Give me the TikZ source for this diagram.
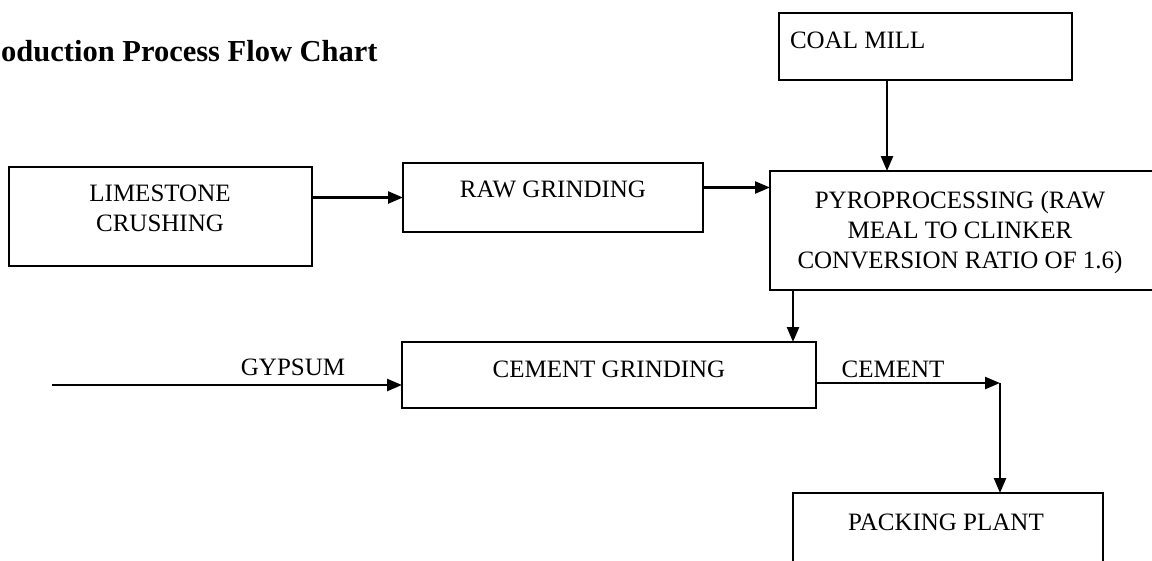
\documentclass[tikz,border=0pt]{standalone}
\usepackage{fontspec}
\setmainfont{Liberation Serif}
\usetikzlibrary{arrows.meta,calc}
\tikzset{
  box/.style={draw, line width=2.4pt, inner sep=0pt, outer sep=0pt, rectangle},
  lbl/.style={inner sep=0pt, outer sep=0pt, font=\fontsize{25}{30}\selectfont, align=center},
  arr/.style={line width=2.4pt, -{Triangle[length=15pt,width=12pt]}}
}
\begin{document}
\begin{tikzpicture}[x=1pt,y=-1pt]
\useasboundingbox (0,0) rectangle (1152,560);
\clip (0,0) rectangle (1152,560);
\fill[white] (0,0) rectangle (1152,560);

% title
\node[inner sep=0pt, anchor=base west, font=\fontsize{30.5}{36}\selectfont\bfseries] (title) at (1,61) {oduction Process Flow Chart};

% boxes
\node[box, minimum width=303pt, minimum height=99pt] (lime) at (160.5,216.5) {};
\node[box, minimum width=300pt, minimum height=69pt] (raw) at (553,197.5) {};
\node[box, minimum width=293pt, minimum height=67pt] (coal) at (925.5,46.5) {};
\node[box, minimum width=395pt, minimum height=119pt] (pyro) at (967.5,230.5) {};
\node[box, minimum width=414pt, minimum height=66pt] (cem) at (609,375) {};
\node[box, minimum width=310pt, minimum height=107pt] (pack) at (948,546.5) {};

% box texts (base = baseline of the last line)
\node[lbl, anchor=base] (limeT) at (160,231) {LIMESTONE\\CRUSHING};
\node[lbl, anchor=base] (rawT) at (553,197) {RAW GRINDING};
\node[lbl, anchor=base west] (coalT) at (790,48) {COAL MILL};
\node[lbl, anchor=base] (pyroT) at (960,268) {PYROPROCESSING (RAW\\MEAL TO CLINKER\\CONVERSION RATIO OF 1.6)};
\node[lbl, anchor=base] (cemT) at (609,377) {CEMENT GRINDING};
\node[lbl, anchor=base] (packT) at (946,530) {PACKING PLANT};

% connector labels
\node[lbl, anchor=base] (gypT) at (293,375) {GYPSUM};
\node[lbl, anchor=base] (cemoT) at (893,377) {CEMENT};

% connectors
\draw[arr] (lime.east |- raw.west) -- (raw.west);
\draw[arr] ([yshift=10pt]raw.east) -- ([yshift=10pt]raw.east -| pyro.west);
\draw[arr] ([xshift=-38.5pt]coal.south) -- ([xshift=-38.5pt]coal.south |- pyro.north);
\draw[arr] ([xshift=23pt]pyro.south west) -- ([xshift=23pt]pyro.south west |- cem.north);
\coordinate (gyp) at (52,385);
\draw[arr] (gyp) -- (gyp -| cem.west);
\coordinate (corner) at (1000,383);
\draw[arr] (corner -| cem.east) -- (corner);
\draw[arr] (corner) -- (corner |- pack.north);
\end{tikzpicture}
\end{document}
